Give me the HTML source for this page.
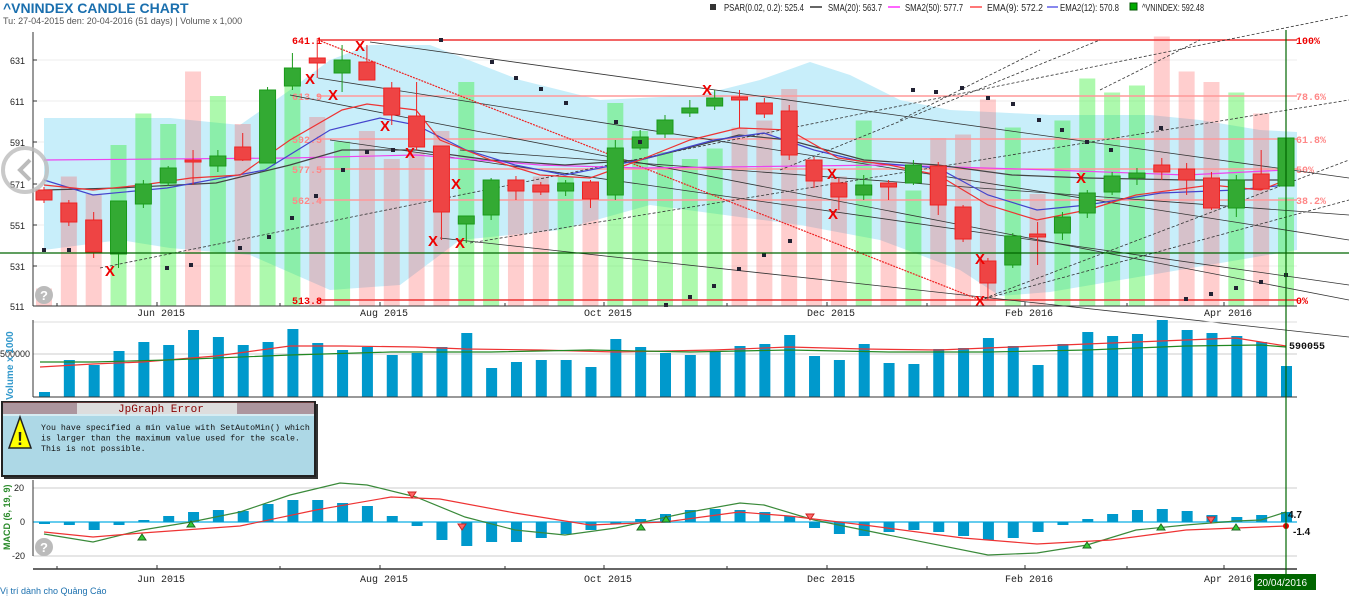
<!DOCTYPE html>
<html><head><meta charset="utf-8"><style>
body{margin:0;background:#fff;width:1349px;height:610px;overflow:hidden;font-family:"Liberation Sans",sans-serif}
svg{position:absolute;left:0;top:0}
.m{font-family:"Liberation Mono",monospace;font-size:10px}
</style></head><body>
<svg id="s" width="1349" height="610" xmlns="http://www.w3.org/2000/svg">
<g id="bg"></g>
<text x="3" y="13" font-size="14" font-weight="bold" fill="#1a6fae" font-family="Liberation Sans">^VNINDEX CANDLE CHART</text>
<text x="3" y="24" font-size="9" fill="#555" font-family="Liberation Sans">Tu: 27-04-2015 den: 20-04-2016 (51 days) | Volume x 1,000</text>
<g font-size="10.5" font-family="Liberation Sans" fill="#222">
<rect x="710" y="4" width="6" height="6" fill="#333"/><text x="724" y="11" textLength="80" lengthAdjust="spacingAndGlyphs">PSAR(0.02, 0.2): 525.4</text>
<line x1="810" y1="7" x2="822" y2="7" stroke="#666" stroke-width="2"/><text x="828" y="11" textLength="54" lengthAdjust="spacingAndGlyphs">SMA(20): 563.7</text>
<line x1="888" y1="7" x2="900" y2="7" stroke="#f6f" stroke-width="2"/><text x="905" y="11" textLength="58" lengthAdjust="spacingAndGlyphs">SMA2(50): 577.7</text>
<line x1="970" y1="7" x2="982" y2="7" stroke="#f77" stroke-width="2"/><text x="987" y="11" textLength="56" lengthAdjust="spacingAndGlyphs">EMA(9): 572.2</text>
<line x1="1047" y1="7" x2="1058" y2="7" stroke="#88e" stroke-width="2"/><text x="1060" y="11" textLength="59" lengthAdjust="spacingAndGlyphs">EMA2(12): 570.8</text>
<rect x="1130" y="3" width="7" height="7" fill="#0a0" stroke="#050"/><text x="1142" y="11" textLength="62" lengthAdjust="spacingAndGlyphs">^VNINDEX: 592.48</text>
</g>
<g id="fg"></g>
</svg>
<script>
(function(){
const NS="http://www.w3.org/2000/svg";
const bg=document.getElementById('bg'),fg=document.getElementById('fg');
function el(p,t,a,txt){const e=document.createElementNS(NS,t);for(const k in a)e.setAttribute(k,a[k]);if(txt!=null)e.textContent=txt;p.appendChild(e);return e;}
const X=i=>44+i*24.84;
const C=[['r',190,200,187,203],['r',203,222,200,226],['r',220,252,212,258],['g',201,254,201,268],['g',184,204,180,208],['g',168,183,166,186],['r',160,162,150,185],['g',156,166,150,172],['r',147,160,133,161],['g',90,163,87,163],['g',68,86,53,90],['r',58,63,40,78],['g',60,73,45,92],['r',62,80,45,80],['r',88,115,82,125],['r',116,147,82,150],['r',146,212,146,240],['g',216,224,216,243],['g',180,215,178,220],['r',180,191,176,200],['r',185,192,182,195],['g',183,191,180,196],['r',182,199,180,208],['g',148,195,140,200],['g',137,148,130,150],['g',120,134,115,138],['g',108,113,100,117],['g',98,106,90,110],['r',97,100,90,128],['r',103,114,98,118],['r',111,155,105,160],['r',160,181,157,188],['r',183,197,178,210],['g',185,195,175,200],['r',183,187,180,200],['g',165,183,160,185],['r',166,205,162,215],['r',207,239,205,242],['r',261,283,258,300],['g',236,265,233,268],['r',234,237,222,265],['g',217,233,212,240],['g',193,213,190,218],['g',176,192,172,195],['g',173,178,168,185],['r',165,172,158,180],['r',169,180,163,195],['r',178,208,172,210],['g',180,208,175,217],['r',174,189,150,190],['g',138,186,135,190]];
const V=[392,360,365,351,342,345,330,337,345,342,329,343,350,347,355,353,347,333,368,362,360,360,367,339,347,353,355,352,346,344,335,356,360,344,363,364,349,348,338,346,365,344,332,336,334,320,330,333,336,342,366];
const M=[-2,-3,-8,-3,2,6,10,12,11,18,22,22,19,16,6,-4,-18,-24,-20,-20,-16,-12,-8,-2,3,8,12,13,12,10,6,-6,-12,-14,-10,-8,-10,-14,-18,-16,-10,-3,3,8,12,13,11,7,5,7,10];
[60,101,142,184,225,266].forEach(y=>el(bg,'line',{x1:34,x2:1297,y1:y,y2:y,stroke:'#eee'}));
const tp=[[44,118],[170,118],[240,125],[290,90],[330,60],[370,45],[430,45],[520,80],[600,100],[700,95],[760,80],[810,62],[850,75],[900,100],[950,110],[1050,115],[1150,115],[1200,120],[1260,130],[1297,132]];
const bt=[[1297,250],[1250,258],[1150,275],[1050,292],[1000,296],[960,270],[880,240],[800,225],[650,205],[560,230],[460,240],[400,285],[330,290],[250,255],[170,248],[120,240],[44,250]];
el(bg,'polygon',{points:tp.concat(bt).map(p=>p.join(',')).join(' '),fill:'#c8eefa'});
C.forEach((c,i)=>{const t=306-3.5*(397-V[i]);el(bg,'rect',{x:X(i)-8,y:t,width:16,height:306-t,fill:c[0]=='r'?'rgba(255,60,60,0.25)':'rgba(40,240,40,0.38)'});});
[[40,'641.1','100%'],[96,'613.9','78.6%'],[139,'592.5','61.8%'],[169,'577.5','50%'],[200,'562.4','38.2%'],[300,'513.8','0%']].forEach((f,i)=>{
 const full=(i==0||i==5);
 el(fg,'line',{x1:318,x2:1297,y1:f[0],y2:f[0],stroke:full?'#e33':'#f99','stroke-width':1.5});
 el(fg,'text',{x:292,y:f[0]+4,class:'m','font-weight':'bold',fill:full?'#e00':'#f88'},f[1]);
 el(fg,'text',{x:1296,y:f[0]+4,class:'m','font-weight':'bold',fill:full?'#e00':'#f88'},f[2]);
});
const TL=[[100,268,1349,15],[470,243,1349,100],[980,300,1349,160],[780,170,1100,40],[900,120,1040,50],[1100,90,1200,40],[370,42,1349,178],[318,78,1349,240],[290,95,1349,300],[440,238,1349,337],[330,140,1349,285],[980,300,1349,200],[460,150,1349,215]];
TL.forEach(l=>el(fg,'line',{x1:l[0],y1:l[1],x2:l[2],y2:l[3],stroke:'#333','stroke-width':0.8,'stroke-dasharray':l[1]>l[3]?'3,2':'none'}));
el(fg,'line',{x1:318,y1:40,x2:980,y2:300,stroke:'#e22','stroke-width':1.2,'stroke-dasharray':'2,1'});
function pl(pts,col,w){el(fg,'polyline',{points:pts.map(p=>p.join(',')).join(' '),fill:'none',stroke:col,'stroke-width':w||1.2});}
pl([[44,160],[290,158],[416,155],[540,165],[640,168],[889,165],[1050,170],[1186,175],[1286,170]],'#e4e');
pl([[44,190],[118,188],[216,183],[290,165],[342,150],[416,150],[490,160],[565,165],[640,160],[739,135],[789,140],[864,160],[938,165],[1012,175],[1087,178],[1186,180],[1286,180]],'#444');
pl([[44,180],[93,195],[167,188],[265,170],[330,130],[380,118],[416,125],[466,150],[515,165],[565,175],[640,160],[714,140],[764,133],[814,150],[864,162],[938,168],[988,195],[1037,210],[1087,205],[1161,193],[1236,190],[1286,185]],'#44c');
pl([[44,185],[93,190],[142,185],[191,178],[240,175],[290,140],[342,110],[367,104],[416,110],[440,140],[491,160],[540,175],[590,178],[640,160],[690,140],[739,128],[789,130],[838,158],[889,165],[938,175],[988,205],[1037,220],[1087,210],[1136,195],[1211,185],[1261,190],[1286,180]],'#e33');
C.forEach((c,i)=>{const x=X(i),col=c[0]=='r'?'#e22':'#1a9a1a',fill=c[0]=='r'?'#ee4444':'#33aa33';
 el(fg,'line',{x1:x,x2:x,y1:c[3],y2:c[4],stroke:col});
 el(fg,'rect',{x:x-8,y:c[1],width:16,height:Math.max(2,c[2]-c[1]),fill:fill,stroke:col});});
[[44,250],[69,250],[167,268],[191,265],[240,248],[269,237],[292,218],[316,196],[343,170],[367,152],[393,150],[441,40],[492,62],[516,78],[541,89],[566,103],[616,122],[640,142],[666,305],[690,297],[714,286],[739,269],[764,255],[790,241],[913,90],[936,92],[962,88],[988,98],[1013,104],[1039,120],[1062,130],[1087,142],[1111,150],[1161,128],[1186,299],[1211,294],[1236,288],[1261,282],[1286,275]].forEach(p=>el(fg,'rect',{x:p[0]-2,y:p[1]-2,width:4,height:4,fill:'#223'}));
[[110,270],[310,78],[333,94],[360,45],[385,125],[410,152],[456,183],[433,240],[460,242],[707,89],[832,173],[833,213],[980,258],[980,300],[1081,177]].forEach(p=>el(fg,'text',{x:p[0]-5,y:p[1]+6,'font-size':15,'font-weight':'bold',fill:'#e00','font-family':'Liberation Sans'},'X'));
el(fg,'line',{x1:33,y1:32,x2:33,y2:306,stroke:'#333'});
el(fg,'line',{x1:33,y1:306,x2:1297,y2:306,stroke:'#333'});
[[631,60],[611,101],[591,142],[571,184],[551,225],[531,266],[511,306]].forEach(t=>{el(fg,'text',{x:10,y:t[1]+4,'font-size':9,fill:'#222','font-family':'Liberation Sans'},t[0]);el(fg,'line',{x1:33,x2:37,y1:t[1],y2:t[1],stroke:'#333'});});
const MO=[[157,'Jun 2015'],[380,'Aug 2015'],[604,'Oct 2015'],[827,'Dec 2015'],[1025,'Feb 2016'],[1224,'Apr 2016']];
function months(y,ty){MO.forEach(m=>{el(fg,'line',{x1:m[0],x2:m[0],y1:y-4,y2:y,stroke:'#333'});el(fg,'text',{x:m[0]-20,y:ty,class:'m',fill:'#222'},m[1]);});[57,280,505,727,927,1127].forEach(x=>el(fg,'line',{x1:x,x2:x,y1:y-3,y2:y,stroke:'#333'}));}
months(306,316);
el(fg,'line',{x1:0,x2:1349,y1:253,y2:253,stroke:'#060','stroke-width':1.2});
el(fg,'circle',{cx:25,cy:170,r:22,fill:'none',stroke:'#bbb','stroke-width':4,opacity:0.8});
el(fg,'polyline',{points:'30,160 20,170 30,180',fill:'none',stroke:'#bbb','stroke-width':4});
el(fg,'line',{x1:33,y1:322,x2:1297,y2:322,stroke:'#ddd'});
el(fg,'line',{x1:33,y1:354,x2:1297,y2:354,stroke:'#ccc'});
V.forEach((v,i)=>el(fg,'rect',{x:X(i)-5,y:v,width:11,height:397-v,fill:'#0099cc'}));
pl([[40,367],[93,364],[142,362],[216,356],[290,346],[342,346],[416,347],[466,349],[540,350],[616,352],[714,350],[789,347],[864,349],[938,350],[1012,347],[1087,344],[1161,341],[1236,338],[1286,346]],'#e33');
pl([[40,362],[93,362],[167,360],[290,355],[391,352],[491,352],[590,350],[690,352],[789,350],[889,352],[988,352],[1087,350],[1186,346],[1261,345],[1286,347]],'#282');
el(fg,'line',{x1:33,y1:320,x2:33,y2:397,stroke:'#333'});
el(fg,'line',{x1:33,y1:397,x2:1297,y2:397,stroke:'#333'});
el(fg,'text',{x:1289,y:349,class:'m','font-weight':'bold',fill:'#111'},'590055');
el(fg,'text',{x:0,y:357,'font-size':9,fill:'#222'},'500000');
el(fg,'text',{x:0,y:0,'font-size':10,fill:'#3399cc','font-weight':'bold',transform:'translate(13,400) rotate(-90)'},'Volume x 1000');
[488,556].forEach(y=>el(fg,'line',{x1:33,x2:1297,y1:y,y2:y,stroke:'#ccc'}));
el(fg,'line',{x1:33,x2:1297,y1:522,y2:522,stroke:'#66ccee','stroke-width':2});
M.forEach((m,i)=>{const h=Math.abs(m);el(fg,'rect',{x:X(i)-5,y:m>0?522-m:522,width:11,height:h,fill:'#0099cc'});});
pl([[44,534],[93,542],[142,530],[191,522],[240,512],[290,495],[340,483],[367,485],[416,497],[465,517],[515,530],[565,535],[616,528],[690,512],[740,503],[764,505],[814,520],[888,535],[988,555],[1037,553],[1087,545],[1136,530],[1186,525],[1236,521],[1261,520],[1286,512]],'#3a8a3a');
pl([[44,532],[93,537],[142,533],[240,526],[316,510],[391,497],[440,499],[515,513],[590,525],[665,522],[739,512],[789,516],[864,525],[963,538],[1037,544],[1111,540],[1186,530],[1286,526]],'#e33');
[[142,537],[191,524],[1087,545],[1161,527],[1236,527],[641,527],[666,519]].forEach(p=>el(fg,'polygon',{points:`${p[0]-4},${p[1]+3} ${p[0]+4},${p[1]+3} ${p[0]},${p[1]-3}`,fill:'#3c3',stroke:'#262'}));
[[412,495],[462,527],[810,517],[1211,520]].forEach(p=>el(fg,'polygon',{points:`${p[0]-4},${p[1]-3} ${p[0]+4},${p[1]-3} ${p[0]},${p[1]+3}`,fill:'#f66',stroke:'#c22'}));
el(fg,'circle',{cx:1286,cy:526,r:3,fill:'#e00'});
el(fg,'line',{x1:33,y1:480,x2:33,y2:556,stroke:'#333'});
[[20,491],[0,525],[-20,559]].forEach(t=>el(fg,'text',{x:t[0]<0?12:t[0]?14:20,y:t[1],'font-size':9,fill:'#222'},t[0]));
el(fg,'text',{x:0,y:0,'font-size':9,fill:'#2a8a2a','font-weight':'bold',transform:'translate(10,550) rotate(-90)'},'MACD (6, 19, 9)');
el(fg,'text',{x:1288,y:518,'font-size':10,'font-weight':'bold',fill:'#111'},'4.7');
el(fg,'text',{x:1293,y:535,'font-size':10,'font-weight':'bold',fill:'#111'},'-1.4');
el(fg,'line',{x1:33,y1:569,x2:1297,y2:569,stroke:'#666','stroke-width':2});
months(569,582);
[[44,295],[44,547]].forEach(p=>{el(fg,'circle',{cx:p[0],cy:p[1],r:9,fill:'#bbb'});el(fg,'text',{x:p[0]-4,y:p[1]+5,'font-size':13,'font-weight':'bold',fill:'#fff'},'?');});
el(fg,'line',{x1:1286,y1:30,x2:1286,y2:590,stroke:'#060','stroke-width':1.2});
el(fg,'rect',{x:1254,y:574,width:62,height:16,fill:'#060'});
el(fg,'text',{x:1257,y:586,'font-size':10,fill:'#fff'},'20/04/2016');
el(fg,'text',{x:0,y:594,'font-size':9,fill:'#1a6fae'},'Vị trí dành cho Quảng Cáo');
el(fg,'rect',{x:4,y:404,width:314,height:75,fill:'#333'});
el(fg,'rect',{x:2,y:402,width:313,height:74,fill:'#add8e6',stroke:'#222','stroke-width':2});
for(let y=403;y<414;y+=2)el(fg,'line',{x1:3,x2:314,y1:y,y2:y,stroke:'#a55'});
el(fg,'rect',{x:77,y:403,width:160,height:11,fill:'#ddd'});
el(fg,'text',{x:118,y:412,'font-family':'Liberation Mono','font-size':11,fill:'#800'},'JpGraph Error');
el(fg,'line',{x1:3,x2:314,y1:415,y2:415,stroke:'#fff'});
el(fg,'polygon',{points:'20,417 9,448 31,448',fill:'#ff0',stroke:'#222','stroke-width':1.5});
el(fg,'text',{x:17,y:445,'font-size':18,'font-weight':'bold',fill:'#222'},'!');
['You have specified a min value with SetAutoMin() which','is larger than the maximum value used for the scale.','This is not possible.'].forEach((t,i)=>el(fg,'text',{x:41,y:430+i*10.5,'font-family':'Liberation Mono','font-size':8.3,fill:'#111'},t));
})();
</script>
</body></html>
